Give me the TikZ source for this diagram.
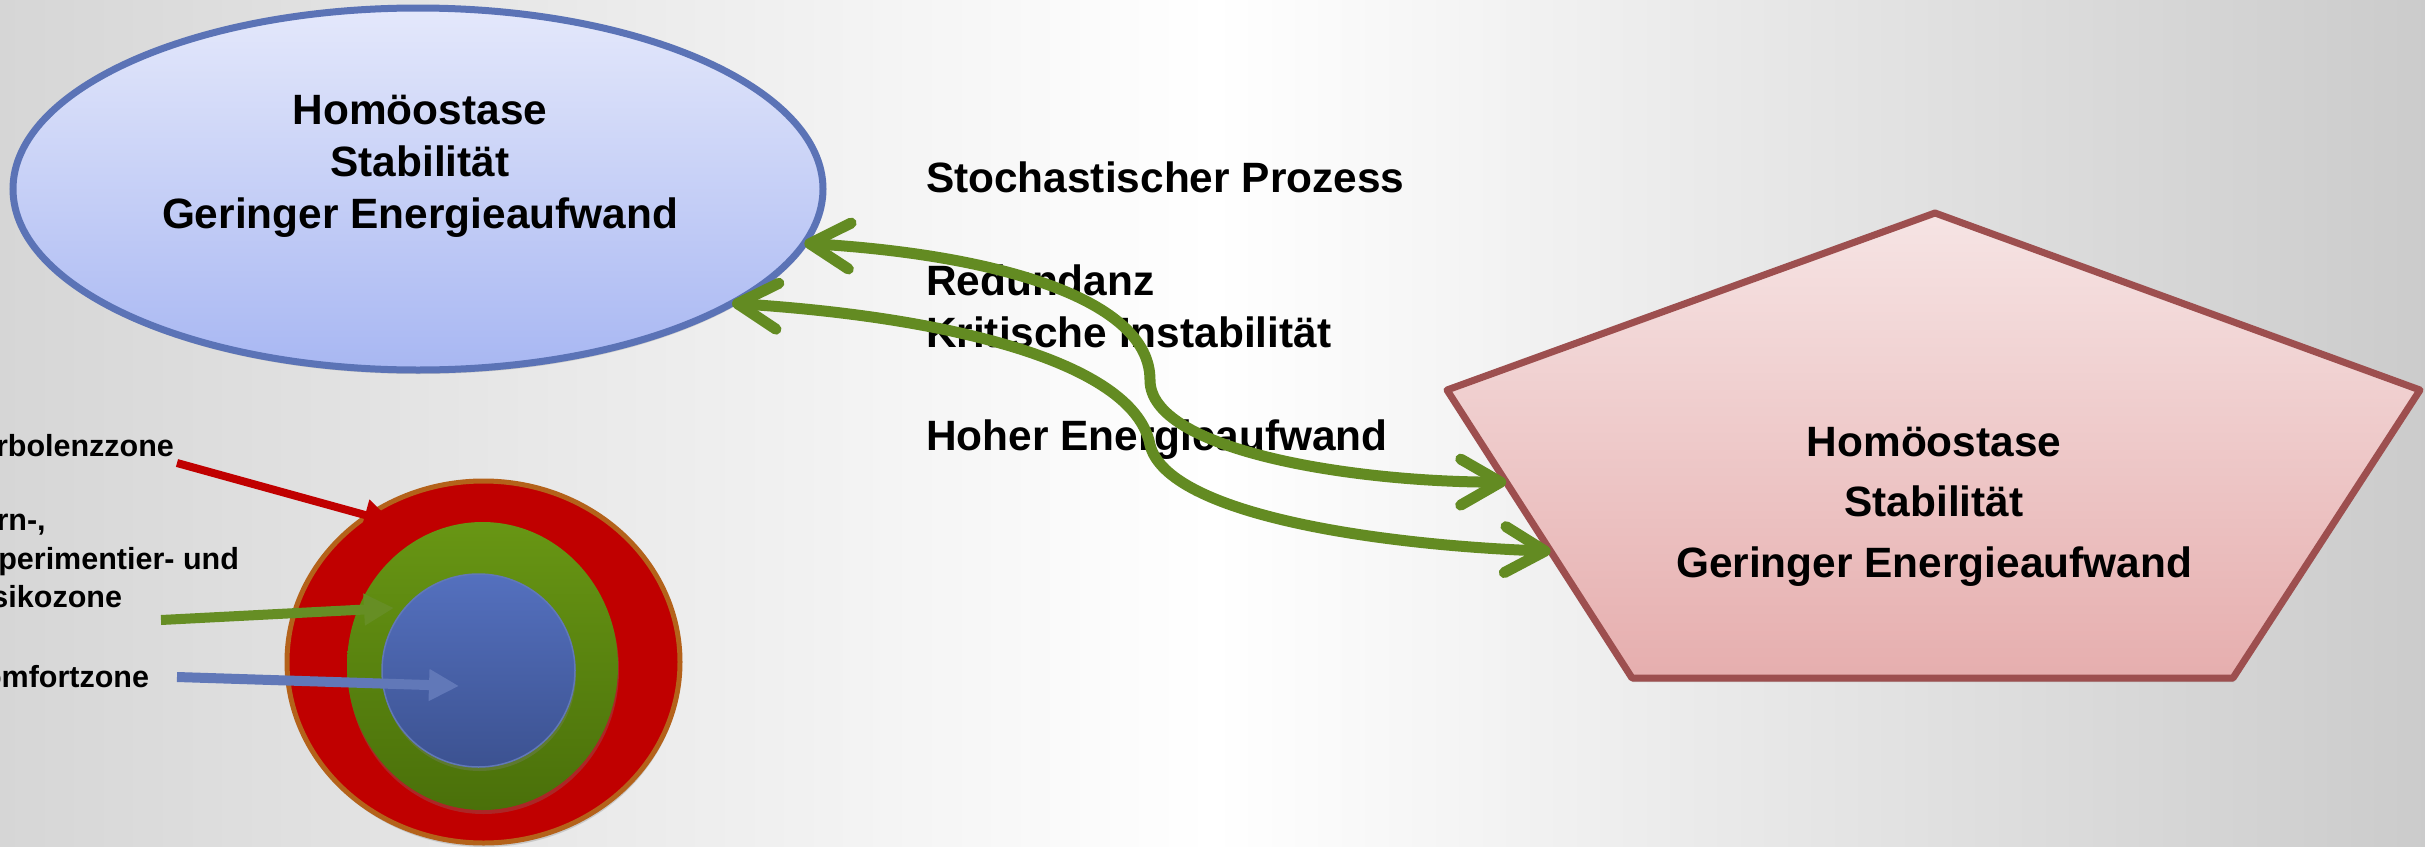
\documentclass[tikz,border=0pt]{standalone}
\usepackage{fontspec}
\setmainfont{Liberation Sans}
\usetikzlibrary{arrows.meta,shadows,calc,shapes.geometric}
\definecolor{bgside}{RGB}{214,214,214}
\definecolor{elltop}{RGB}{228,232,251}
\definecolor{ellbot}{RGB}{168,183,242}
\definecolor{ellline}{RGB}{91,115,182}
\definecolor{penttop}{RGB}{246,228,228}
\definecolor{pentbot}{RGB}{230,174,174}
\definecolor{pentline}{RGB}{157,79,79}
\definecolor{loopgreen}{RGB}{99,139,34}
\definecolor{zonered}{RGB}{192,0,0}
\definecolor{ringline}{RGB}{180,98,26}
\definecolor{zonegreentop}{RGB}{104,150,20}
\definecolor{zonegreenbot}{RGB}{74,112,10}
\definecolor{zonebluetop}{RGB}{84,112,190}
\definecolor{zonebluebot}{RGB}{60,82,145}
\definecolor{arrowgreen}{RGB}{102,142,36}
\definecolor{arrowblue}{RGB}{97,120,184}
\begin{document}
\begin{tikzpicture}[x=1pt,y=-1pt,
  every node/.style={inner sep=0pt,outer sep=0pt},
  bigtext/.style={font=\fontsize{42.4}{52}\selectfont\bfseries},
  zonetext/.style={font=\fontsize{30.5}{38.5}\selectfont\bfseries,align=left},
  softshadow/.style={drop shadow={opacity=0.3,shadow xshift=1pt,shadow yshift=-4pt}},
  loopline/.style={draw=loopgreen,line width=11pt,line cap=round,
    {Straight Barb[length=40pt,width=46pt,round]}-{Straight Barb[length=40pt,width=46pt,round]}},
  zonearrow/.style={line width=9pt,-{Triangle[length=30pt,width=30pt]}}]
\useasboundingbox (0,0) rectangle (2425,846);
\shade [left color=bgside,right color=bgside!95!black,middle color=white] (0,0) rectangle (2425,846);
\node [ellipse,draw=ellline,line width=7pt,top color=elltop,bottom color=ellbot,softshadow,
  minimum width=810pt,minimum height=362pt] (ell) at (418,189) {};
\node [bigtext,align=center,anchor=north] (elltext) at (420,95) {Homöostase\\Stabilität\\Geringer Energieaufwand};
\coordinate (ptop) at (1935,213);
\coordinate (pright) at (2420,390);
\coordinate (pbr) at (2233,678);
\coordinate (pbl) at (1632,678);
\coordinate (pleft) at (1447,390);
\filldraw [draw=pentline,line width=7pt,line join=round,top color=penttop,bottom color=pentbot,softshadow]
  (ptop) -- (pright) -- (pbr) -- (pbl) -- (pleft) -- cycle;
\node [bigtext,align=center,anchor=north,font=\fontsize{42.4}{60.5}\selectfont\bfseries] (penttext) at (1934,427) {Homöostase\\Stabilität\\Geringer Energieaufwand};
\node [bigtext,align=left,anchor=north west] (process) at (926,162) {Stochastischer Prozess\\[51pt]Redundanz\\Kritische Instabilität\\[51pt]Hoher Energieaufwand};
\coordinate (in1) at ($(pleft)!0.32!(pbl)$);
\coordinate (in2) at ($(pleft)!0.56!(pbl)$);
\draw [loopline] (ell.-8) .. controls (1000,255) and (1150,300) .. (1150,380) .. controls (1150,450) and (1350,482) .. (in1);
\draw [loopline] (ell.-20) .. controls (960,318) and (1135,365) .. (1150,445) .. controls (1168,515) and (1380,545) .. (in2);
\node [ellipse,draw=ringline,line width=5pt,fill=zonered,softshadow,minimum width=393pt,minimum height=362pt] (outer) at (483.5,662) {};
\node [ellipse,top color=zonegreentop,bottom color=zonegreenbot,softshadow,minimum width=271pt,minimum height=288pt] (middle) at (482.5,666) {};
\node [circle,draw=arrowblue,line width=1.5pt,top color=zonebluetop,bottom color=zonebluebot,softshadow,minimum size=193pt] (inner) at (478.5,670.5) {};
\node [zonetext,anchor=base west] (turb) at (-39,456) {Turbolenzzone};
\node [zonetext,anchor=north west] (lern) at (-39,510) {Lern-,\\Experimentier- und\\Risikozone};
\node [zonetext,anchor=base west] (komf) at (-39,687) {Komfortzone};
\coordinate (redtail) at (177,463);
\coordinate (redtip) at (394,523);
\coordinate (greentail) at (161,620);
\coordinate (greentip) at (394,608);
\coordinate (bluetail) at (177,677);
\coordinate (bluetip) at (459,686);
\draw [zonearrow,draw=zonered,fill=zonered,line width=8pt] (redtail) -- (redtip);
\draw [zonearrow,draw=arrowgreen,fill=arrowgreen,line width=10pt] (greentail) -- (greentip);
\draw [zonearrow,draw=arrowblue,fill=arrowblue,line width=10pt] (bluetail) -- (bluetip);
\end{tikzpicture}
\end{document}
